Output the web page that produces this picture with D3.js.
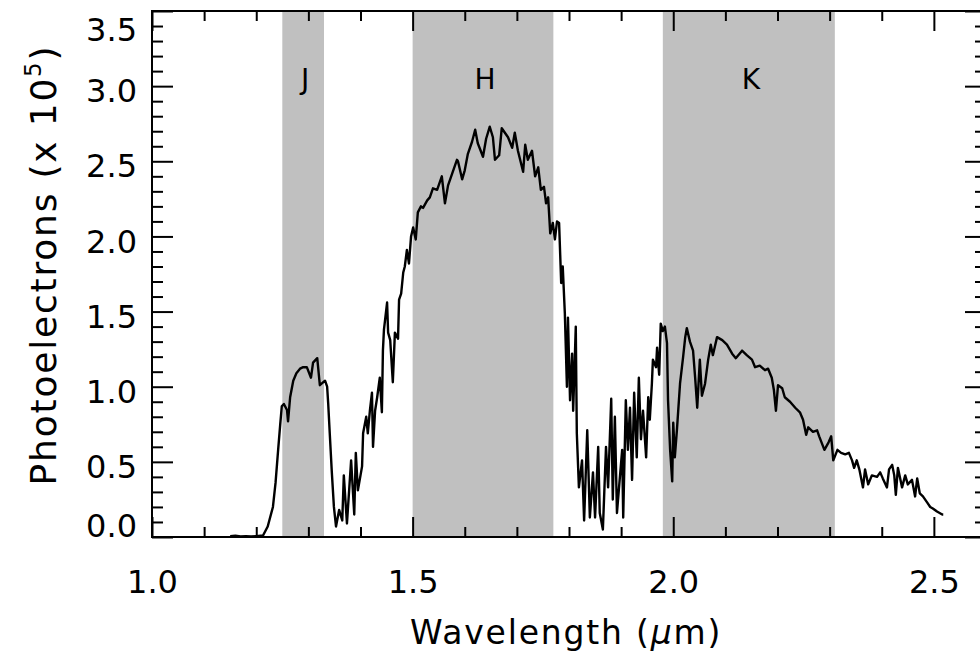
<!DOCTYPE html>
<html>
<head>
<meta charset="utf-8">
<script src="https://cdn.jsdelivr.net/npm/d3@7"></script>
<style>
  body { margin: 0; background: #fff; }
  svg { display: block; }
  text { font-family: "DejaVu Sans", sans-serif; fill: #000; }
</style>
</head>
<body>
<svg id="chart" width="980" height="653"></svg>
<script>
// wavelength (micron) and photoelectrons (x 1e5)
const wavelength = [
  1.150, 1.160, 1.170, 1.180, 1.190, 1.200, 1.213, 1.222, 1.232, 1.237,
  1.242, 1.246, 1.249, 1.253, 1.259, 1.261, 1.265, 1.271, 1.277, 1.284,
  1.290, 1.297, 1.305, 1.309, 1.317, 1.322, 1.332, 1.336, 1.338, 1.341,
  1.345, 1.349, 1.353, 1.359, 1.365, 1.368, 1.374, 1.382, 1.388, 1.391,
  1.395, 1.403, 1.405, 1.411, 1.414, 1.418, 1.422, 1.424, 1.428, 1.432,
  1.437, 1.441, 1.443, 1.445, 1.451, 1.453, 1.457, 1.462, 1.466, 1.472,
  1.474, 1.478, 1.482, 1.485, 1.489, 1.493, 1.497, 1.501, 1.506, 1.510,
  1.516, 1.520, 1.528, 1.533, 1.539, 1.547, 1.556, 1.562, 1.568, 1.576,
  1.585, 1.587, 1.595, 1.600, 1.606, 1.614, 1.620, 1.625, 1.635, 1.641,
  1.648, 1.654, 1.658, 1.666, 1.671, 1.677, 1.683, 1.691, 1.696, 1.702,
  1.712, 1.716, 1.721, 1.729, 1.735, 1.741, 1.746, 1.752, 1.756, 1.760,
  1.764, 1.769, 1.773, 1.777, 1.781, 1.785, 1.788, 1.792, 1.796, 1.798,
  1.802, 1.806, 1.808, 1.813, 1.815, 1.819, 1.825, 1.829, 1.835, 1.840,
  1.846, 1.850, 1.856, 1.859, 1.865, 1.871, 1.875, 1.881, 1.884, 1.888,
  1.892, 1.896, 1.902, 1.904, 1.909, 1.913, 1.917, 1.921, 1.925, 1.930,
  1.934, 1.938, 1.942, 1.948, 1.952, 1.955, 1.959, 1.961, 1.967, 1.969,
  1.973, 1.976, 1.980, 1.984, 1.988, 1.990, 1.994, 1.998, 2.000, 2.003,
  2.007, 2.013, 2.019, 2.023, 2.026, 2.032, 2.038, 2.042, 2.046, 2.051,
  2.055, 2.061, 2.067, 2.072, 2.076, 2.084, 2.094, 2.103, 2.113, 2.120,
  2.132, 2.141, 2.151, 2.157, 2.166, 2.176, 2.182, 2.189, 2.193, 2.197,
  2.201, 2.209, 2.214, 2.224, 2.234, 2.243, 2.249, 2.255, 2.259, 2.268,
  2.276, 2.280, 2.290, 2.298, 2.303, 2.307, 2.315, 2.322, 2.330, 2.337,
  2.343, 2.347, 2.352, 2.357, 2.364, 2.368, 2.374, 2.381, 2.391, 2.397,
  2.402, 2.410, 2.414, 2.420, 2.424, 2.427, 2.431, 2.439, 2.445, 2.450,
  2.458, 2.464, 2.468, 2.473, 2.479, 2.487, 2.493, 2.498, 2.506, 2.516,
  2.518
];
const photoelectrons = [
  0.005, 0.008, 0.003, 0.006, 0.004, 0.005, 0.01, 0.07, 0.20, 0.36,
  0.58, 0.75, 0.87, 0.885, 0.845, 0.77, 0.93, 1.04, 1.09, 1.12,
  1.13, 1.13, 1.06, 1.16, 1.19, 1.01, 1.04, 1.00, 0.89, 0.69,
  0.43, 0.20, 0.07, 0.18, 0.11, 0.41, 0.09, 0.51, 0.15, 0.56,
  0.31, 0.47, 0.69, 0.80, 0.69, 0.84, 0.96, 0.60, 0.84, 0.93,
  1.06, 0.83, 1.24, 1.38, 1.56, 1.36, 1.31, 1.03, 1.36, 1.32,
  1.58, 1.62, 1.76, 1.80, 1.91, 1.82, 2.00, 2.06, 1.98, 2.16,
  2.20, 2.19, 2.24, 2.26, 2.32, 2.31, 2.40, 2.22, 2.34, 2.42,
  2.51, 2.50, 2.38, 2.44, 2.55, 2.63, 2.71, 2.62, 2.53, 2.65,
  2.73, 2.66, 2.51, 2.54, 2.72, 2.69, 2.66, 2.59, 2.69, 2.57,
  2.43, 2.61, 2.51, 2.57, 2.40, 2.46, 2.31, 2.33, 2.22, 2.26,
  2.02, 2.09, 1.98, 2.10, 2.09, 1.69, 1.80, 1.49, 1.00, 1.46,
  0.91, 1.22, 0.84, 1.40, 0.69, 0.33, 0.51, 0.11, 0.71, 0.13,
  0.43, 0.13, 0.60, 0.16, 0.05, 0.60, 0.33, 0.92, 0.25, 0.80,
  0.16, 0.33, 0.58, 0.13, 0.91, 0.58, 0.86, 0.38, 0.96, 0.53,
  1.06, 0.65, 0.84, 0.53, 0.93, 0.78, 1.02, 1.18, 1.13, 1.26,
  1.08, 1.42, 1.37, 1.40, 1.29, 0.91, 0.58, 0.37, 0.76, 0.53,
  0.71, 1.02, 1.20, 1.33, 1.39, 1.30, 1.24, 1.06, 0.86, 1.18,
  0.94, 1.02, 1.18, 1.28, 1.21, 1.33, 1.31, 1.28, 1.22, 1.19,
  1.24, 1.21, 1.18, 1.13, 1.14, 1.11, 1.12, 1.06, 0.98, 0.84,
  1.01, 0.99, 0.93, 0.90, 0.86, 0.83, 0.78, 0.68, 0.73, 0.70,
  0.71, 0.67, 0.58, 0.63, 0.67, 0.51, 0.58, 0.56, 0.55, 0.56,
  0.51, 0.46, 0.51, 0.45, 0.33, 0.45, 0.35, 0.41, 0.40, 0.43,
  0.39, 0.33, 0.45, 0.48, 0.41, 0.28, 0.46, 0.33, 0.41, 0.35,
  0.38, 0.27, 0.39, 0.29, 0.27, 0.23, 0.20, 0.19, 0.17, 0.15,
  0.15
];

// photometric bands
const bandNames = ["J", "H", "K"];
const bandStart = [1.25, 1.50, 1.98];
const bandEnd   = [1.33, 1.77, 2.31];

const xMajorTicks = [1.0, 1.5, 2.0, 2.5];
const xTickLabels = ["1.0", "1.5", "2.0", "2.5"];
const yMajorTicks = [0.0, 0.5, 1.0, 1.5, 2.0, 2.5, 3.0, 3.5];
const yTickLabels = ["0.0", "0.5", "1.0", "1.5", "2.0", "2.5", "3.0", "3.5"];

const svg = d3.select("#chart");

const x = d3.scaleLinear().domain([1.0, 2.6]).range([152, 986]);
const y = d3.scaleLinear().domain([0, 3.5]).range([537, 11]);

// shaded bands
const bands = bandNames.map((n, i) => ({ name: n, lo: bandStart[i], hi: bandEnd[i] }));
svg.append("g").selectAll("rect")
  .data(bands).enter().append("rect")
  .attr("x", d => x(d.lo))
  .attr("width", d => x(d.hi) - x(d.lo))
  .attr("y", y(3.5))
  .attr("height", y(0) - y(3.5))
  .attr("fill", "#c0c0c0");

svg.append("g").selectAll("text")
  .data(bands).enter().append("text")
  .attr("x", d => (x(d.lo) + x(d.hi)) / 2 + 2)
  .attr("y", 89)
  .attr("text-anchor", "middle")
  .style("font-size", "28px")
  .text(d => d.name);

// spectrum
const pts = wavelength.map((w, i) => [w, photoelectrons[i]]);
svg.append("path")
  .datum(pts)
  .attr("fill", "none")
  .attr("stroke", "#000")
  .attr("stroke-width", 2.4)
  .attr("stroke-linejoin", "round")
  .attr("d", d3.line().x(d => x(d[0])).y(d => y(d[1])));

// axes: all ticks point inward
const xMinor = d3.range(10, 27).map(v => v / 10).filter(v => !xMajorTicks.some(m => Math.abs(m - v) < 1e-9));
const yMinor = d3.range(0, 36).map(v => v / 10).filter(v => !yMajorTicks.some(m => Math.abs(m - v) < 1e-9));

function styleAxis(g) {
  g.select(".domain").remove();
  g.selectAll("line").attr("stroke", "#000").attr("stroke-width", 2);
  g.selectAll("text").style("font-size", "32px").style("font-family", "DejaVu Sans, sans-serif");
}

// bottom
svg.append("g").attr("transform", `translate(0,${y(0)})`)
  .call(d3.axisBottom(x).tickValues(xMajorTicks).tickSize(-20).tickPadding(33)
    .tickFormat((d, i) => xTickLabels[i]))
  .call(styleAxis);
svg.append("g").attr("transform", `translate(0,${y(0)})`)
  .call(d3.axisBottom(x).tickValues(xMinor).tickSize(-10).tickFormat(""))
  .call(styleAxis);
// top
svg.append("g").attr("transform", `translate(0,${y(3.5)})`)
  .call(d3.axisTop(x).tickValues(xMajorTicks).tickSize(-20).tickFormat(""))
  .call(styleAxis);
svg.append("g").attr("transform", `translate(0,${y(3.5)})`)
  .call(d3.axisTop(x).tickValues(xMinor).tickSize(-10).tickFormat(""))
  .call(styleAxis);
// left; end labels are kept inside the frame
svg.append("g").attr("transform", `translate(${x(1.0)},0)`)
  .call(d3.axisLeft(y).tickValues(yMajorTicks).tickSize(-21).tickPadding(15)
    .tickFormat((d, i) => yTickLabels[i]))
  .call(styleAxis)
  .call(g => g.selectAll("text").attr("dy", d => {
    const c = Math.min(Math.max(y(d) + 4, y(3.5) + 18), y(0) - 12);
    return (c + 11.7 - y(d)) + "px";
  }));
svg.append("g").attr("transform", `translate(${x(1.0)},0)`)
  .call(d3.axisLeft(y).tickValues(yMinor).tickSize(-11).tickFormat(""))
  .call(styleAxis);
// right
svg.append("g").attr("transform", `translate(${x(2.6)},0)`)
  .call(d3.axisRight(y).tickValues(yMajorTicks).tickSize(-21).tickFormat(""))
  .call(styleAxis);
svg.append("g").attr("transform", `translate(${x(2.6)},0)`)
  .call(d3.axisRight(y).tickValues(yMinor).tickSize(-11).tickFormat(""))
  .call(styleAxis);

// frame
svg.append("rect")
  .attr("x", x(1.0)).attr("y", y(3.5))
  .attr("width", x(2.6) - x(1.0)).attr("height", y(0) - y(3.5))
  .attr("fill", "none").attr("stroke", "#000").attr("stroke-width", 2);

// axis titles
const xt = svg.append("text")
  .attr("x", 566).attr("y", 644)
  .attr("text-anchor", "middle")
  .style("font-size", "33px")
  .style("letter-spacing", "1.8px");
xt.append("tspan").text("Wavelength (");
xt.append("tspan").style("font-style", "italic").text("μ");
xt.append("tspan").text("m)");

const yt = svg.append("text")
  .attr("transform", "translate(56,265) rotate(-90)")
  .attr("text-anchor", "middle")
  .style("font-size", "36px")
  .style("letter-spacing", "1.8px");
yt.append("tspan").text("Photoelectrons (x 10");
yt.append("tspan").attr("dy", -15).style("font-size", "23px").text("5");
yt.append("tspan").attr("dy", 15).text(")");
</script>
</body>
</html>
